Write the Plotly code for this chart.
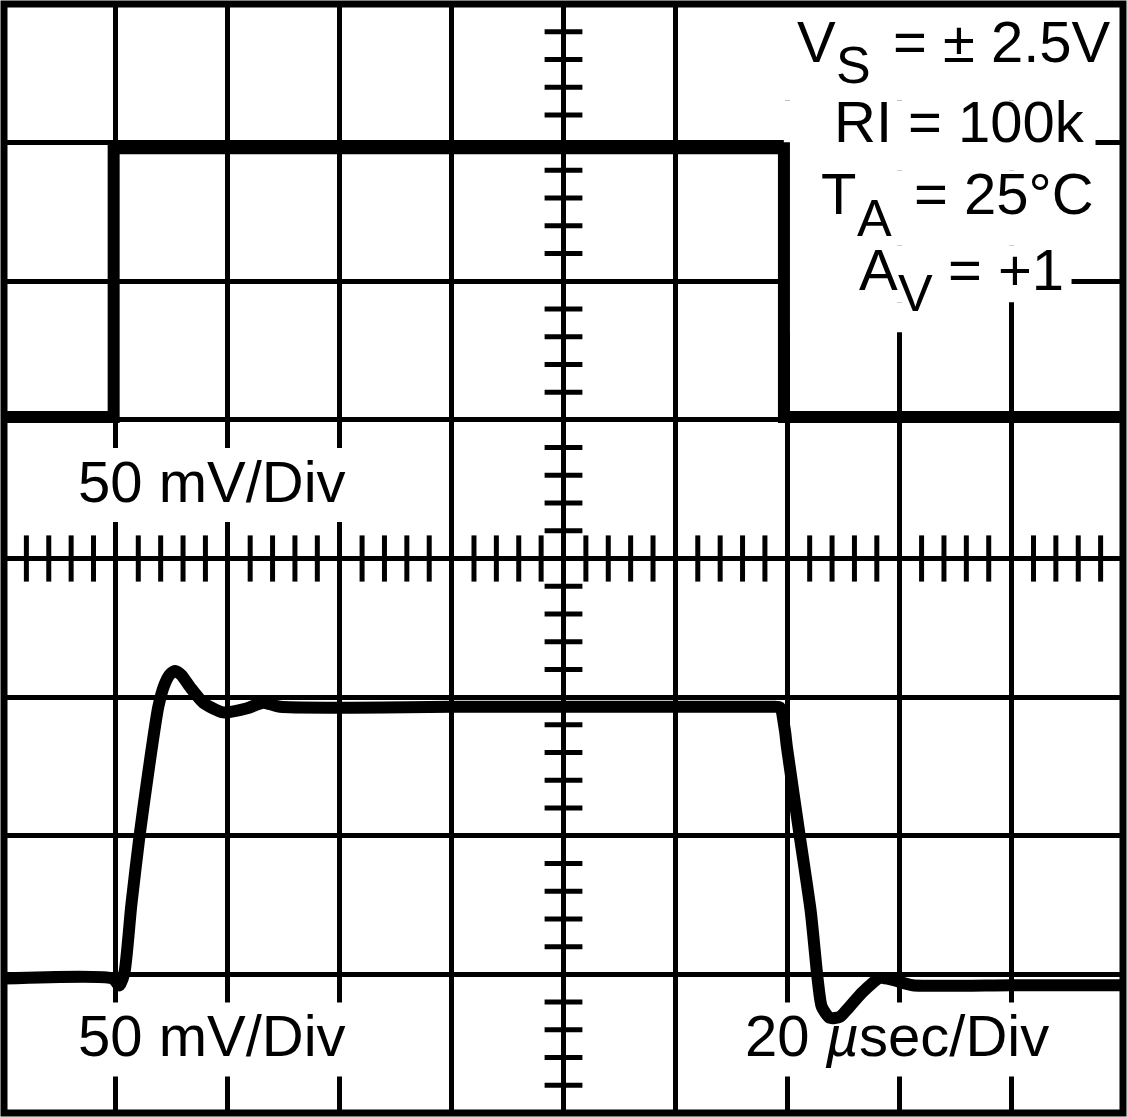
"""Oscilloscope capture: step response, non-inverting unity gain."""
import plotly.graph_objects as go

# screen is 10 x 8 divisions, centre at (5, 0)
input_t = [0, 0.98, 0.98, 6.97, 6.97, 10]
input_v = [1.02, 1.02, 2.96, 2.96, 1.02, 1.02]

output_t = [0, 0.969, 1.031, 1.076, 1.138, 1.21, 1.29, 1.379, 1.433, 1.487,
            1.531, 1.585, 1.665, 1.781, 1.96, 2.174, 2.317, 2.469, 4.0, 5.5,
            6.85, 6.933, 6.978, 6.996, 7.112, 7.21, 7.272, 7.308, 7.38, 7.469,
            7.531, 7.674, 7.826, 7.942, 8.121, 9.0, 10]
output_v = [-3.03, -3.03, -3.08, -2.988, -2.498, -2.008, -1.539, -1.07, -0.912, -0.833,
            -0.811, -0.84, -0.93, -1.04, -1.11, -1.08, -1.04, -1.07, -1.07, -1.07,
            -1.07, -1.074, -1.236, -1.358, -2.007, -2.55, -3.04, -3.234, -3.314, -3.307,
            -3.256, -3.127, -3.026, -3.04, -3.078, -3.078, -3.078]

FONT = "Liberation Sans"
FS = 58      # main label size
FS_SUB = 52  # subscripts


def sx(px):
    # screen pixel -> divisions (plot area starts 3.5px in, 112px per div)
    return (px - 3.5) / 112


def sy(py):
    return 4 - (py - 3.5) / 138.75


fig = go.Figure()

# graticule minor ticks on the centre lines
h_ticks = [i * 0.2 for i in range(1, 50) if i % 5]
v_ticks = [-4 + i * 0.2 for i in range(1, 40) if i % 5]
fig.add_trace(go.Scatter(x=h_ticks, y=[0] * len(h_ticks), mode="markers",
                         marker=dict(symbol="line-ns", size=33, line=dict(width=5, color="black"))))
fig.add_trace(go.Scatter(x=[5] * len(v_ticks), y=v_ticks, mode="markers",
                         marker=dict(symbol="line-ew", size=27, line=dict(width=5, color="black"))))

fig.add_trace(go.Scatter(x=input_t, y=input_v, mode="lines",
                         line=dict(color="black", width=12)))
fig.add_trace(go.Scatter(x=output_t, y=output_v, mode="lines",
                         line=dict(color="black", width=12, shape="spline", smoothing=0.6)))

# white patches behind the labels (grid hidden, traces still on top), in pixels
patches = [
    (40, 380, 448, 522),
    (40, 380, 1003, 1077),
    (700, 1100, 1003, 1077),
    (784, 1124, 0, 100),
    (784, 1096, 100, 170),
    (784, 1124, 170, 245),
    (784, 1072, 245, 302),
    (784, 1005, 302, 332),
]
for x0, x1, y0, y1 in patches:
    fig.add_shape(type="rect", xref="x", yref="y", x0=sx(x0), x1=sx(x1), y0=sy(y1), y1=sy(y0),
                  fillcolor="white", line_width=0, layer="between")

# screen frame
fig.add_shape(type="rect", xref="paper", yref="paper", x0=0, x1=1, y0=0, y1=1,
              line=dict(color="black", width=7), layer="above")


def label(text, px, cap_top, anchor, size=FS):
    # place by the cap-height top of the glyphs, as measured on the screen
    top = cap_top - 17.5 * size / FS
    fig.add_annotation(x=sx(px), y=sy(top), text=text, showarrow=False, xanchor=anchor,
                       yanchor="top", borderpad=0,
                       font=dict(family=FONT, size=size, color="black"))


label("V", 796, 25, "left")
label("S", 835, 50, "left", FS_SUB)
label("= ± 2.5V", 1112, 25, "right")
label("RI = 100k", 1086, 105, "right")
label("T", 820, 177, "left")
label("A", 856, 203, "left", FS_SUB)
label("= 25°C", 1095, 177, "right")
label("A", 858, 253, "left")
label("V", 897, 278, "left", FS_SUB)
label("= +1", 1065, 253, "right")
label("50 mV/Div", 212, 465, "center")
label("50 mV/Div", 212, 1020, "center")
label("20 <i>µ</i>sec/Div", 897, 1020, "center")

fig.update_xaxes(range=[0, 10], dtick=1, tick0=0, showgrid=True, gridcolor="black",
                 gridwidth=5, zeroline=False, showticklabels=False, ticks="", showline=False)
fig.update_yaxes(range=[-4, 4], dtick=1, tick0=0, showgrid=True, gridcolor="black",
                 gridwidth=5, zeroline=False, showticklabels=False, ticks="", showline=False)
fig.update_layout(width=1127, height=1117, margin=dict(l=3.5, r=3.5, t=3.5, b=3.5),
                  plot_bgcolor="white", paper_bgcolor="white", showlegend=False,
                  hovermode=False)

fig.write_html("out.html", config={"displayModeBar": False},
               post_script="document.body.style.margin = '0';")
